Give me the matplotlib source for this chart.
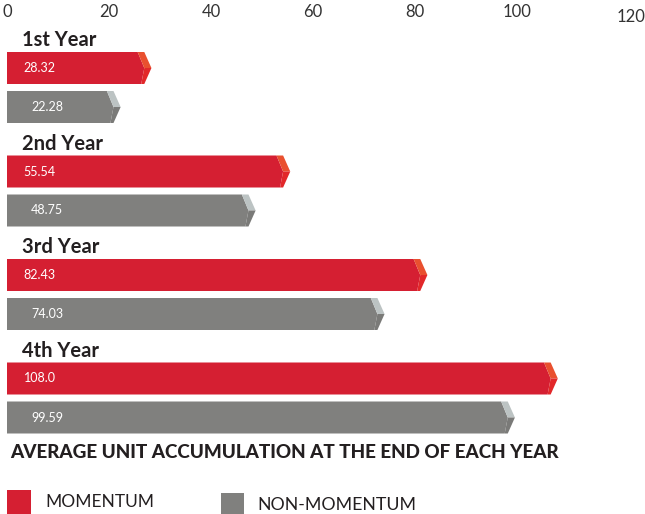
import numpy as np
import matplotlib.pyplot as plt
from matplotlib.patches import Polygon, Rectangle
from matplotlib.transforms import ScaledTranslation

# Data
years = ['1st Year', '2nd Year', '3rd Year', '4th Year']
momentum = [28.32, 55.54, 82.43, 108.0]
non_momentum = [22.28, 48.75, 74.03, 99.59]
ticks = [0, 20, 40, 60, 80, 100, 120]

RED = '#d51f32'
RED_TOP = '#e9502f'
RED_BOT = '#e2282a'
GREY = '#80807e'
GREY_TOP = '#bcc3c3'
GREY_BOT = '#7a7a78'
TXT = '#231f20'

plt.rcParams['font.family'] = ['Lato', 'DejaVu Sans']

W, H = 645, 514
fig = plt.figure(figsize=(W / 100, H / 100), dpi=100)
# axes spans x 7..645 px, y 24..440 px
ax = fig.add_axes([7 / W, (H - 440) / H, (W - 7) / W, (440 - 24) / H])

gap = 103.5          # px between groups
half = 16 / gap      # half bar height in group units
grey_off = 39 / gap  # grey bar centre offset from red bar centre
label_off = 28 / gap # year label above red bar centre


def arrow(ax, v, yc, body, top, bot):
    t, b = yc - half, yc + half
    a, c, d = 2.7, 1.4, 2.0
    ax.add_patch(Polygon([(0, t), (v - a, t), (v - c, yc), (v - d, b), (0, b)],
                         closed=True, fc=body, ec='none'))
    ax.add_patch(Polygon([(v - a, t), (v - c, t), (v, yc), (v - c, yc)],
                         closed=True, fc=top, ec='none'))
    ax.add_patch(Polygon([(v - c, yc), (v, yc), (v - c, b), (v - d, b)],
                         closed=True, fc=bot, ec='none'))


for i, (yr, m, n) in enumerate(zip(years, momentum, non_momentum)):
    arrow(ax, m, i, RED, RED_TOP, RED_BOT)
    arrow(ax, n, i + grey_off, GREY, GREY_TOP, GREY_BOT)
    ax.text(3.3, i, f'{m}', color='white', fontsize=9, va='center', ha='left')
    ax.text(4.7, i + grey_off, f'{n}', color='white', fontsize=9, va='center', ha='left')
    ax.text(3.0, i - label_off, yr, color=TXT, fontsize=14.5, fontweight='bold',
            va='center', ha='left')

ax.set_xlim(0, (W - 7) / 5.1)
ax.set_ylim((440 - 68) / gap, (24 - 68) / gap)
ax.set_xticks(ticks)
ax.set_xticklabels([str(t) for t in ticks])
ax.xaxis.tick_top()
ax.tick_params(axis='x', length=0, pad=3, labelsize=12, labelcolor='#333333')
ax.set_yticks([])
for s in ax.spines.values():
    s.set_visible(False)
ax.patch.set_alpha(0)

# the 120 label sits a bit right and lower in the original
lab = ax.get_xticklabels()[-1]
lab.set_transform(lab.get_transform() + ScaledTranslation(12 / 100, -5 / 100, fig.dpi_scale_trans))

fig.text(10 / W, 1 - 453 / H, 'AVERAGE UNIT ACCUMULATION AT THE END OF EACH YEAR',
         color=TXT, fontsize=13.6, fontweight='black', va='center', ha='left')

# legend
fig.patches.append(Rectangle((7 / W, 0), 24 / W, 24 / H, transform=fig.transFigure,
                             fc=RED, ec='none'))
fig.patches.append(Rectangle((221 / W, 0), 23 / W, 21 / H, transform=fig.transFigure,
                             fc=GREY, ec='none'))
fig.text(45 / W, 1 - 502 / H, 'MOMENTUM', color=TXT, fontsize=12.5, va='center', ha='left')
fig.text(257 / W, 1 - 505 / H, 'NON-MOMENTUM', color=TXT, fontsize=12.8, va='center', ha='left')

fig.savefig('out.png', dpi=100)
